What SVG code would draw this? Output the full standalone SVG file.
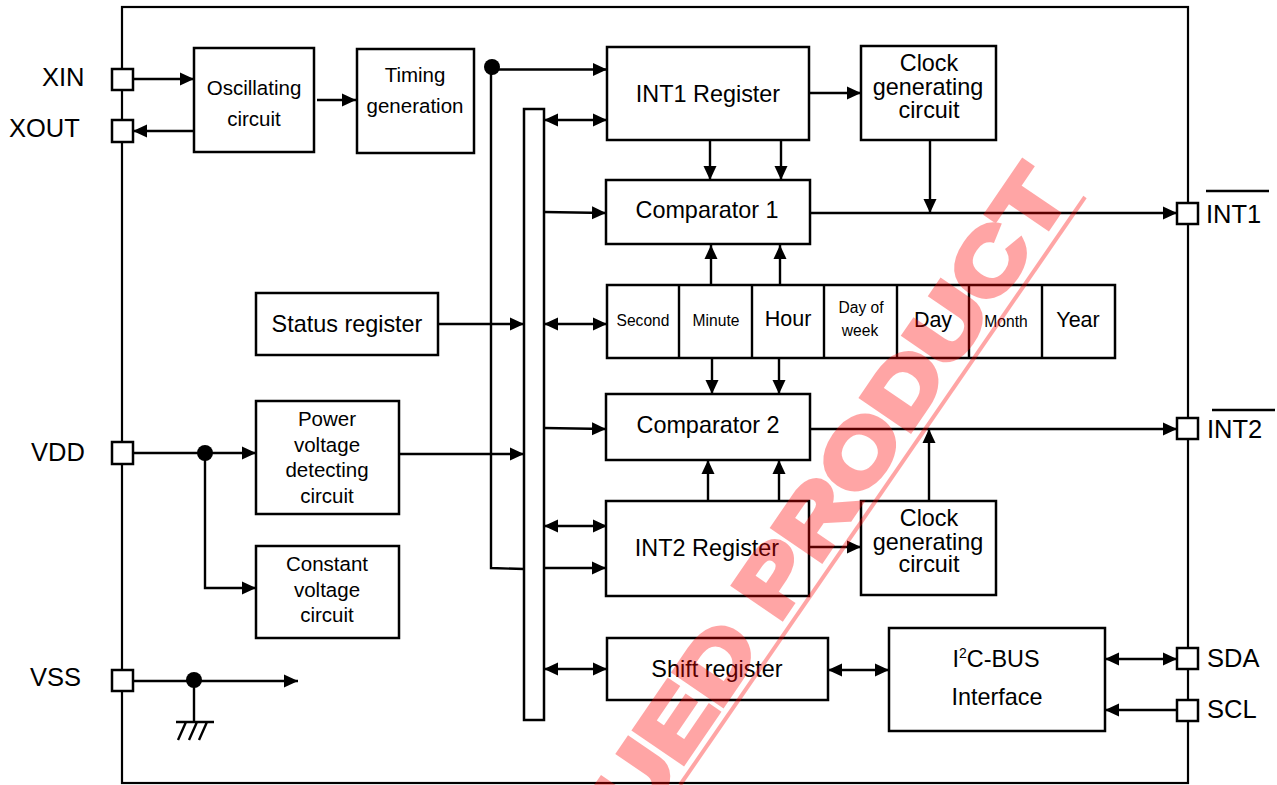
<svg xmlns="http://www.w3.org/2000/svg" width="1277" height="785" viewBox="0 0 1277 785">
<style>
.b{fill:#fff;stroke:#000;stroke-width:2.5}
.c{fill:none;stroke:#000;stroke-width:2.4}
.a{marker-end:url(#ah)}
.d{marker-start:url(#ah);marker-end:url(#ah)}
text{font-family:"Liberation Sans",Arial,sans-serif;fill:#000;text-anchor:middle}
.t20{font-size:20.5px}.t23{font-size:23.4px}.t16{font-size:15.6px}.t21{font-size:21.5px}
.p{font-size:25.5px;text-anchor:start}
.w{font-size:84px;font-weight:bold;fill:#f00;stroke:#f00;stroke-width:6;text-anchor:end}
</style>
<defs>
<marker id="ah" markerUnits="userSpaceOnUse" markerWidth="15" markerHeight="15" refX="14" refY="7.5" orient="auto-start-reverse"><path d="M0 1L14 7.5L0 14Z" fill="#000"/></marker>
</defs>
<rect x="122" y="7" width="1066" height="776" fill="none" stroke="#000" stroke-width="2.2"/>
<g id="connectors">
<path class="c a" d="M133 79H194"/>
<path class="c a" d="M194 131H133"/>
<path class="c a" d="M317 100H356"/>
<path class="c a" d="M491 69.500H607"/>
<path class="c" d="M491 67V568L524 569"/>
<path class="c a" d="M544 568H606"/>
<path class="c d" d="M544 120H607"/>
<path class="c a" d="M544 212L606 213"/>
<path class="c a" d="M439 324H524"/>
<path class="c d" d="M544 324H607"/>
<path class="c a" d="M399 454H524"/>
<path class="c a" d="M544 428L606 429"/>
<path class="c d" d="M544 526H607"/>
<path class="c d" d="M544 669H607"/>
<path class="c d" d="M828 670H889"/>
<path class="c d" d="M1105 659H1177"/>
<path class="c a" d="M1177 710H1105"/>
<path class="c a" d="M809 93H861"/>
<path class="c a" d="M710 140V180"/>
<path class="c a" d="M781 140V180"/>
<path class="c a" d="M711 285V245"/>
<path class="c a" d="M780 285V245"/>
<path class="c a" d="M712 358V394"/>
<path class="c a" d="M779 358V394"/>
<path class="c a" d="M708 501V460"/>
<path class="c a" d="M779 501V460"/>
<path class="c a" d="M929 501V429"/>
<path class="c a" d="M809 547H861"/>
<path class="c a" d="M930 140V213"/>
<path class="c a" d="M810 213H1177"/>
<path class="c a" d="M810 429H1177"/>
<path class="c a" d="M133 453H256"/>
<path class="c a" d="M205 453V588H256"/>
<path class="c a" d="M133 681H298"/>
<path class="c" d="M194 680V722M176 722H214M186 722L178 740M197 722L189 740M207 722L199 740"/>
<circle cx="492" cy="67" r="8"/>
<circle cx="205" cy="453" r="8"/>
<circle cx="194" cy="680" r="8"/>
</g>
<g id="bus"><rect class="b" x="524" y="109" width="20" height="611"/></g>
<g id="oscillating"><rect class="b" x="194" y="48" width="120" height="104"/><text class="t20" x="254" y="95">Oscillating</text><text class="t20" x="254" y="126">circuit</text></g>
<g id="timing"><rect class="b" x="357" y="49" width="117" height="104"/><text class="t20" x="415" y="82">Timing</text><text class="t20" x="415" y="113">generation</text></g>
<g id="int1reg"><rect class="b" x="607" y="47" width="202" height="93"/><text class="t23" x="708" y="102">INT1 Register</text></g>
<g id="clock1"><rect class="b" x="861" y="46" width="135" height="94"/><text class="t23" x="929" y="71">Clock</text><text class="t23" x="928" y="95">generating</text><text class="t23" x="929" y="118">circuit</text></g>
<g id="comparator1"><rect class="b" x="606" y="180" width="204" height="64"/><text class="t23" x="707" y="218">Comparator 1</text></g>
<g id="time">
<rect class="b" x="607" y="285" width="508" height="73"/>
<path class="c" d="M679 285V358M752 285V358M824 285V358M897 285V358M969 285V358M1042 285V358"/>
<text class="t16" x="643" y="326">Second</text>
<text class="t16" x="716" y="326">Minute</text>
<text class="t21" x="788" y="326">Hour</text>
<text class="t16" x="861" y="313">Day of</text>
<text class="t16" x="860" y="336">week</text>
<text class="t21" x="933" y="327">Day</text>
<text class="t16" x="1006" y="327">Month</text>
<text class="t21" x="1078" y="327">Year</text>
</g>
<g id="comparator2"><rect class="b" x="606" y="394" width="204" height="66"/><text class="t23" x="708" y="433">Comparator 2</text></g>
<g id="status"><rect class="b" x="256" y="293" width="182" height="62"/><text class="t23" x="347" y="332">Status register</text></g>
<g id="power"><rect class="b" x="256" y="401" width="143" height="113"/><text class="t20" x="327" y="426">Power</text><text class="t20" x="327" y="452">voltage</text><text class="t20" x="327" y="477">detecting</text><text class="t20" x="327" y="503">circuit</text></g>
<g id="constant"><rect class="b" x="256" y="546" width="143" height="92"/><text class="t20" x="327" y="571">Constant</text><text class="t20" x="327" y="597">voltage</text><text class="t20" x="327" y="622">circuit</text></g>
<g id="int2reg"><rect class="b" x="606" y="501" width="203" height="95"/><text class="t23" x="707" y="556">INT2 Register</text></g>
<g id="clock2"><rect class="b" x="861" y="501" width="135" height="94"/><text class="t23" x="929" y="526">Clock</text><text class="t23" x="928" y="550">generating</text><text class="t23" x="929" y="572">circuit</text></g>
<g id="shift"><rect class="b" x="607" y="638" width="221" height="62"/><text class="t23" x="717" y="677">Shift register</text></g>
<g id="i2c"><rect class="b" x="889" y="628" width="216" height="103"/><text class="t23" x="996" y="667">I<tspan font-size="14" dy="-9">2</tspan><tspan dy="9">C-BUS</tspan></text><text class="t23" x="997" y="705">Interface</text></g>
<g id="xin"><rect class="b" x="112" y="69" width="21" height="21"/><text class="p" x="42" y="86">XIN</text></g>
<g id="xout"><rect class="b" x="112" y="120" width="21" height="22"/><text class="p" x="9" y="137">XOUT</text></g>
<g id="vdd"><rect class="b" x="112" y="442" width="21" height="22"/><text class="p" x="31" y="461">VDD</text></g>
<g id="vss"><rect class="b" x="112" y="670" width="21" height="21"/><text class="p" x="30" y="686">VSS</text></g>
<g id="int1"><rect class="b" x="1177" y="203" width="21" height="21"/><path class="c" d="M1206 191H1269"/><text class="p" x="1206" y="223">INT1</text></g>
<g id="int2"><rect class="b" x="1177" y="418" width="21" height="21"/><path class="c" d="M1212 410H1275"/><text class="p" x="1207" y="438">INT2</text></g>
<g id="sda"><rect class="b" x="1177" y="648" width="21" height="21"/><text class="p" x="1207" y="667">SDA</text></g>
<g id="scl"><rect class="b" x="1177" y="700" width="21" height="21"/><text class="p" x="1207" y="718">SCL</text></g>
<g id="watermark" opacity=".35">
<text class="w" transform="translate(1071 194) rotate(-55.7) scale(1.25 1)">UED PRODUCT</text>
<path d="M1085 197L680 785" stroke="#f00" stroke-width="4" fill="none"/>
</g>
</svg>
